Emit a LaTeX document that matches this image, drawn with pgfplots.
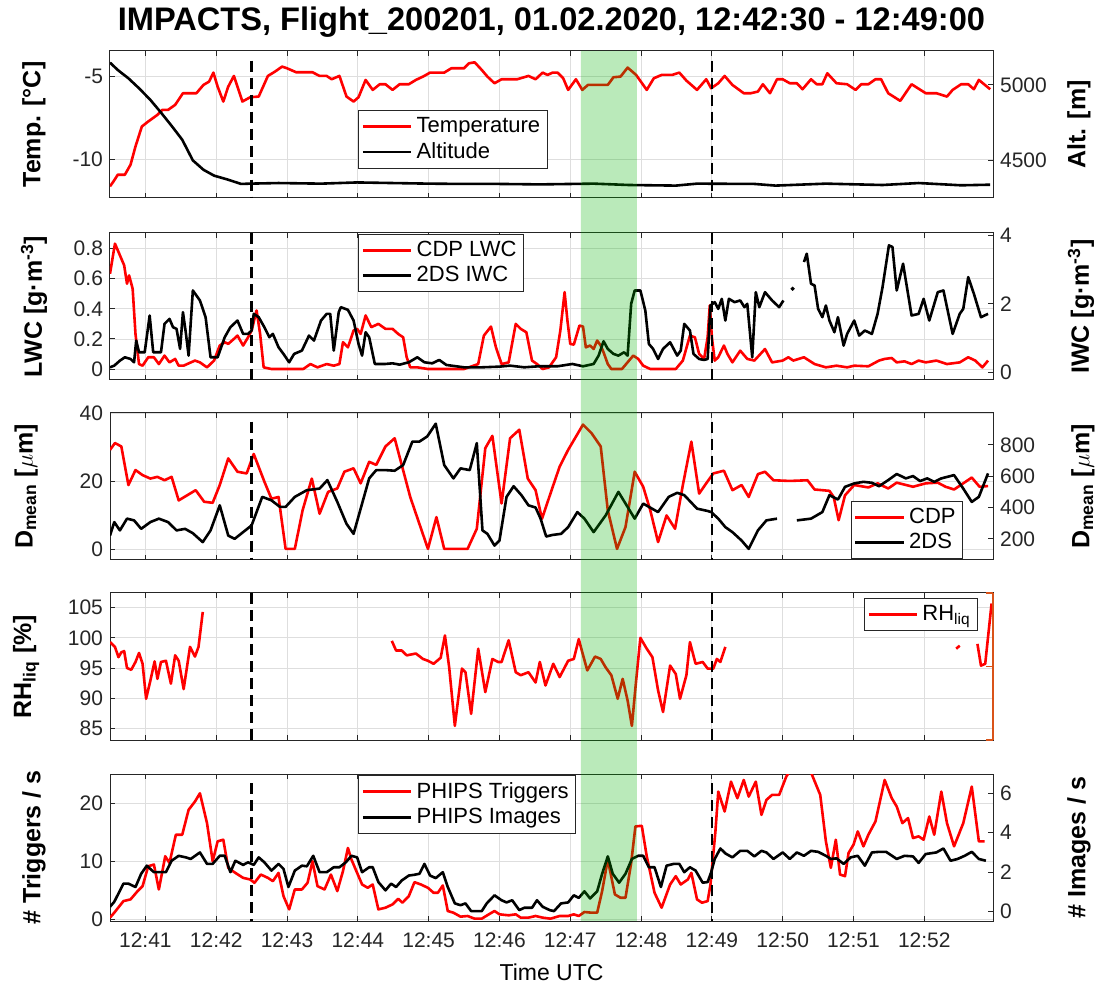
\documentclass[border=0pt]{standalone}
\usepackage{fontspec}
\setmainfont{Liberation Sans}
\usepackage{pgfplots}
\pgfplotsset{compat=1.18}
\definecolor{axgray}{rgb}{0.15,0.15,0.15}
\definecolor{morange}{rgb}{0.85,0.325,0.098}
\definecolor{bandgreen}{rgb}{0,0.7,0}
\tikzset{lw/.style={line width=1.3pt, line join=round},
  dashline/.style={black, line width=1.3pt, dash pattern=on 5.5pt off 3pt}}
\pgfplotsset{
  base/.style={
    scale only axis, width=441.5pt, height=73.5pt, anchor=north west,
    xmin=40.5, xmax=52.97,
    xtick={41,42,43,44,45,46,47,48,49,50,51,52},
    xticklabels={},
    tick align=inside,
    major tick length=2.5pt,
    axis line style={axgray, line width=0.5pt},
    every tick/.style={axgray, line width=0.5pt},
    tick label style={font=\fontsize{10.5}{12}\selectfont, text=axgray},
    /pgf/number format/assume math mode=true,
    /pgf/number format/1000 sep={},
    scaled y ticks=false,
    unbounded coords=jump,
    legend style={font=\fontsize{11}{13}\selectfont, draw=axgray, fill=white, inner sep=1.5pt, row sep=-0.5pt},
    legend cell align=left,
    legend image code/.code={\draw[##1, line width=1.4pt] (0cm,0cm) -- (0.85cm,0cm);},
  },
  leftax/.style={base, ytick pos=left, xmajorgrids, ymajorgrids, grid style={black!13, line width=0.4pt}},
  rightax/.style={base, hide x axis, axis y line*=right, ytick pos=right},
  llab/.style={every axis y label/.style={at={(axis description cs:#1,0.5)}, anchor=center, rotate=90, font=\bfseries\fontsize{12.5}{14}\selectfont, text=black}},
  rlab/.style={every axis y label/.style={at={(axis description cs:#1,0.5)}, anchor=center, rotate=90, font=\bfseries\fontsize{12.5}{14}\selectfont, text=black}},
}
\begin{document}
\begin{tikzpicture}
\path[use as bounding box] (0,0) rectangle (552pt,-494pt);

% ---------------- Panel 1
\begin{axis}[leftax, llab=-0.0861, at={(55pt,-25.5pt)}, ymin=-12.3, ymax=-3.46, ytick={-10,-5}, ylabel={Temp. [°C]},
  title={IMPACTS, Flight\_200201, 01.02.2020, 12:42:30 - 12:49:00},
  title style={font=\bfseries\fontsize{16.3}{19}\selectfont, at={(axis description cs:0.5,1)}, anchor=center, yshift=8.5pt}]
\addplot[red, lw] coordinates {(40.50,-11.6)(40.55,-11.3)(40.61,-10.9)(40.71,-10.9)(40.79,-10.3)(40.86,-9.2)(40.95,-8.0)(41.04,-7.7)(41.17,-7.3)(41.24,-7.0)(41.32,-7.0)(41.42,-6.7)(41.53,-6.0)(41.62,-6.0)(41.72,-6.0)(41.82,-5.5)(41.90,-5.3)(41.96,-4.76)(42.02,-5.6)(42.10,-6.5)(42.17,-5.6)(42.25,-4.96)(42.37,-6.5)(42.48,-6.24)(42.60,-6.2)(42.73,-4.96)(42.83,-4.7)(42.93,-4.4)(43.0,-4.5)(43.13,-4.74)(43.36,-4.74)(43.46,-4.96)(43.56,-4.96)(43.63,-5.16)(43.74,-4.96)(43.84,-6.2)(43.94,-6.5)(44.01,-6.24)(44.11,-5.2)(44.21,-5.8)(44.31,-5.46)(44.39,-5.46)(44.49,-5.8)(44.59,-5.46)(44.72,-5.46)(44.82,-5.2)(44.92,-5.0)(45.02,-4.76)(45.22,-4.76)(45.32,-4.5)(45.50,-4.5)(45.57,-4.2)(45.65,-4.14)(45.75,-4.6)(45.83,-5.0)(45.93,-5.4)(46.03,-5.16)(46.25,-5.16)(46.41,-4.96)(46.51,-5.16)(46.61,-4.76)(46.68,-4.9)(46.75,-4.76)(46.82,-4.76)(46.90,-5.1)(46.97,-5.8)(47.08,-5.16)(47.17,-5.8)(47.25,-5.5)(47.53,-5.5)(47.61,-5.04)(47.71,-5.0)(47.81,-4.46)(47.93,-4.9)(48.08,-5.8)(48.18,-5.1)(48.29,-4.9)(48.44,-4.9)(48.54,-4.76)(48.64,-5.24)(48.79,-5.8)(48.92,-5.16)(48.99,-5.7)(49.09,-5.4)(49.18,-4.96)(49.29,-5.5)(49.45,-6.0)(49.55,-6.0)(49.65,-5.9)(49.72,-5.46)(49.82,-6.0)(49.92,-5.16)(50.0,-5.16)(50.10,-5.4)(50.20,-5.4)(50.28,-5.76)(50.40,-5.16)(50.48,-5.46)(50.56,-5.46)(50.63,-4.8)(50.76,-5.4)(50.91,-5.46)(51.03,-5.8)(51.11,-5.46)(51.21,-5.46)(51.31,-5.16)(51.39,-5.16)(51.49,-6.0)(51.66,-6.46)(51.82,-5.46)(52.02,-6.0)(52.17,-6.0)(52.32,-6.2)(52.40,-5.8)(52.52,-5.46)(52.62,-5.46)(52.70,-5.76)(52.77,-5.2)(52.93,-5.76)};
\addplot[dashline, forget plot] coordinates {(42.5,-4.04)(42.5,-12.3)};
\addplot[dashline, forget plot] coordinates {(49,-4.04)(49,-12.3)};
\end{axis}
\begin{axis}[rightax, rlab=1.0974, at={(55pt,-25.5pt)}, ymin=4251, ymax=5225, ytick={4500,5000}, ylabel={Alt. [m]},
  legend style={at={(axis description cs:0.281,0.599)}, anchor=north west}]
\addlegendimage{red}\addlegendentry{Temperature}
\addplot[black, lw] coordinates {(40.50,5148)(40.61,5099)(40.76,5044)(40.91,4978)(41.07,4901)(41.22,4817)(41.37,4729)(41.52,4637)(41.67,4500)(41.82,4438)(41.97,4399)(42.17,4372)(42.35,4344)(42.48,4346)(42.88,4350)(43.48,4346)(43.99,4354)(44.49,4350)(45.0,4346)(45.5,4344)(46.0,4344)(46.57,4341)(47.33,4346)(47.83,4337)(48.49,4333)(48.79,4346)(49.6,4344)(49.9,4333)(50.61,4346)(51.41,4337)(51.92,4350)(52.52,4335)(52.93,4339)};
\addlegendentry{Altitude}
\end{axis}

% ---------------- Panel 2
\begin{axis}[leftax, llab=-0.0861, at={(55pt,-116.5pt)}, ymin=-0.073, ymax=0.904, ytick={0,0.2,0.4,0.6,0.8}, ylabel={LWC [g·m\textsuperscript{-3}]}]
\addplot[red, lw] coordinates {(40.50,0.633)(40.57,0.833)(40.64,0.756)(40.70,0.689)(40.74,0.567)(40.77,0.622)(40.82,0.533)(40.86,0.233)(40.91,0.033)(40.96,0.022)(41.04,0.078)(41.12,0.078)(41.19,0.033)(41.27,0.089)(41.34,0.044)(41.42,0.067)(41.47,0.022)(41.54,0.022)(41.59,0.033)(41.70,0.056)(41.77,0.044)(41.87,0.011)(41.97,0.056)(42.05,0.156)(42.12,0.178)(42.17,0.167)(42.25,0.2)(42.30,0.222)(42.38,0.156)(42.45,0.211)(42.50,0.256)(42.57,0.389)(42.62,0.233)(42.67,0.011)(42.78,0)(42.98,0)(43.23,0)(43.33,0.033)(43.43,0.011)(43.56,0.033)(43.66,0.022)(43.74,0.033)(43.79,0.178)(43.86,0.144)(43.94,0.256)(43.99,0.267)(44.04,0.233)(44.11,0.356)(44.19,0.278)(44.29,0.3)(44.39,0.267)(44.49,0.267)(44.57,0.233)(44.64,0.211)(44.69,0.078)(44.74,0.011)(44.84,0.011)(44.99,0)(45.50,0)(45.70,0.033)(45.78,0.222)(45.88,0.282)(45.95,0.144)(46.03,0.033)(46.13,0.044)(46.23,0.3)(46.30,0.267)(46.38,0.244)(46.46,0.056)(46.53,0.033)(46.61,0)(46.70,0.011)(46.80,0.078)(46.86,0.256)(46.92,0.511)(46.96,0.322)(47.0,0.167)(47.05,0.162)(47.13,0.289)(47.18,0.282)(47.22,0.144)(47.28,0.156)(47.33,0.133)(47.38,0.189)(47.43,0.156)(47.47,0.111)(47.53,0.033)(47.58,0)(47.73,0)(47.83,0.056)(47.89,0.089)(47.96,0.067)(48.03,0.022)(48.13,0)(48.49,0)(48.59,0.056)(48.69,0.222)(48.76,0.211)(48.82,0.1)(48.89,0.067)(48.94,0.211)(48.97,0.422)(49.0,0.211)(49.04,0.056)(49.09,0.078)(49.17,0.156)(49.22,0.1)(49.29,0.044)(49.40,0.122)(49.50,0.067)(49.60,0.056)(49.75,0.133)(49.85,0.044)(50.0,0.056)(50.08,0.078)(50.15,0.056)(50.30,0.078)(50.45,0.033)(50.61,0.011)(50.76,0.022)(50.91,0.011)(51.01,0.022)(51.21,0.018)(51.36,0.056)(51.44,0.067)(51.54,0.073)(51.61,0.044)(51.72,0.051)(51.82,0.033)(51.92,0.056)(52.02,0.044)(52.17,0.056)(52.32,0.033)(52.50,0.044)(52.62,0.078)(52.72,0.056)(52.82,0.011)(52.90,0.056)};
\addplot[dashline, forget plot] coordinates {(42.5,0.904)(42.5,-0.073)};
\addplot[dashline, forget plot] coordinates {(49,0.904)(49,-0.073)};
\end{axis}
\begin{axis}[rightax, rlab=1.0997, at={(55pt,-116.5pt)}, ymin=-0.224, ymax=4.068, ytick={0,2,4}, ylabel={IWC [g·m\textsuperscript{-3}]},
  legend style={at={(axis description cs:0.281,0.995)}, anchor=north west}]
\addlegendimage{red}\addlegendentry{CDP LWC}
\addplot[black, lw] coordinates {(40.50,0.146)(40.56,0.195)(40.64,0.341)(40.71,0.439)(40.79,0.39)(40.84,0.293)(40.87,0.927)(40.91,0.585)(40.99,0.585)(41.06,1.659)(41.11,0.585)(41.22,0.585)(41.27,1.415)(41.34,1.561)(41.39,1.317)(41.44,1.268)(41.49,0.683)(41.53,1.756)(41.57,1.171)(41.61,0.488)(41.67,2.39)(41.77,2.098)(41.85,1.61)(41.92,0.439)(42.02,0.439)(42.12,1.024)(42.20,1.317)(42.30,1.512)(42.38,1.122)(42.45,1.122)(42.50,1.22)(42.53,1.707)(42.60,1.61)(42.68,1.317)(42.75,1.024)(42.80,1.122)(42.88,0.732)(42.95,0.537)(43.03,0.293)(43.10,0.537)(43.21,0.634)(43.31,1.073)(43.38,0.927)(43.48,1.512)(43.56,1.707)(43.61,1.707)(43.66,0.634)(43.73,1.756)(43.76,1.902)(43.86,1.824)(43.94,1.512)(44.01,0.829)(44.06,0.488)(44.11,1.171)(44.16,1.024)(44.24,0.244)(44.39,0.244)(44.49,0.263)(44.59,0.224)(44.72,0.293)(44.84,0.439)(44.94,0.293)(45.05,0.263)(45.15,0.361)(45.25,0.215)(45.50,0.146)(45.75,0.146)(46.0,0.166)(46.15,0.195)(46.35,0.146)(46.55,0.176)(46.82,0.176)(47.03,0.244)(47.18,0.176)(47.33,0.244)(47.40,0.488)(47.47,0.907)(47.53,0.683)(47.61,0.537)(47.68,0.488)(47.76,0.585)(47.81,0.488)(47.86,2.0)(47.91,2.39)(47.99,2.39)(48.06,1.805)(48.11,0.829)(48.17,0.683)(48.24,0.39)(48.31,0.683)(48.41,0.878)(48.51,0.488)(48.56,0.634)(48.61,1.415)(48.69,1.22)(48.74,0.537)(48.82,0.39)(48.89,0.361)(48.94,0.39)(48.98,1.951)(49.04,2.049)(49.09,1.854)(49.14,2.146)(49.19,1.512)(49.24,2.146)(49.32,2.049)(49.40,2.098)(49.46,1.902)(49.50,2.0)(49.57,0.439)(49.62,2.341)(49.67,1.902)(49.75,2.341)(49.85,2.098)(49.95,1.902)(50.01,2.098)(50.1,nan)(50.30,3.22)(50.34,3.463)(50.40,2.585)(50.45,2.537)(50.50,1.854)(50.56,1.61)(50.61,1.951)(50.66,1.512)(50.73,1.171)(50.78,1.61)(50.86,0.78)(50.91,1.122)(51.01,1.512)(51.08,1.073)(51.16,1.22)(51.26,1.122)(51.34,1.707)(51.41,2.488)(51.50,3.707)(51.55,3.659)(51.61,2.39)(51.70,3.171)(51.82,1.659)(51.92,1.707)(51.99,2.146)(52.07,1.512)(52.19,2.341)(52.27,2.39)(52.40,1.122)(52.50,1.707)(52.55,1.854)(52.62,2.78)(52.70,2.293)(52.80,1.61)(52.90,1.707)};
\addlegendentry{2DS IWC}
\addplot[black, only marks, mark=*, mark size=0.8pt, forget plot] coordinates {(50.14,2.44)};
\end{axis}

% ---------------- Panel 3
\begin{axis}[leftax, llab=-0.095, at={(55pt,-206.5pt)}, ymin=-3.05, ymax=40, ytick={0,20,40}, ylabel={D\textsubscript{mean} [$\mu$m]}]
\addplot[red, lw] coordinates {(40.50,29.2)(40.57,31.2)(40.66,30.2)(40.76,18.9)(40.86,23.3)(40.96,21.8)(41.07,20.8)(41.17,21.3)(41.27,20.3)(41.37,21.3)(41.47,14.4)(41.59,15.9)(41.71,17.4)(41.83,14.0)(41.95,13.7)(42.05,18.9)(42.17,26.7)(42.30,22.8)(42.43,22.3)(42.53,28.0)(42.68,19.9)(42.78,14.9)(42.88,15.4)(42.98,0.2)(43.11,0.2)(43.22,11.5)(43.35,20.8)(43.46,10.5)(43.58,16.9)(43.71,17.9)(43.81,22.8)(43.94,23.8)(44.04,19.4)(44.16,25.7)(44.26,24.8)(44.39,30.2)(44.52,32.6)(44.74,15.4)(44.99,0.2)(45.11,9.5)(45.22,0.2)(45.55,0.2)(45.68,6.1)(45.80,29.7)(45.90,33.3)(46.03,13.5)(46.15,32.6)(46.28,35.1)(46.40,20.8)(46.51,17.4)(46.60,9.0)(46.72,16.4)(46.85,24.3)(46.97,29.2)(47.18,36.6)(47.30,34.1)(47.43,30.2)(47.53,11.5)(47.66,0.2)(47.78,6.6)(47.91,22.8)(48.03,18.4)(48.13,11.5)(48.24,2.2)(48.36,10.0)(48.48,6.1)(48.59,18.9)(48.71,31.6)(48.82,16.4)(48.92,19.4)(49.02,22.3)(49.17,23.1)(49.29,17.4)(49.42,18.9)(49.52,15.4)(49.65,22.1)(49.75,22.8)(49.87,20.3)(50.10,20.1)(50.35,20.3)(50.45,17.6)(50.66,17.2)(50.72,15.4)(50.79,8.6)(50.88,15.9)(51.01,18.9)(51.21,18.2)(51.34,19.4)(51.49,17.9)(51.61,19.6)(51.84,18.4)(52.02,19.4)(52.19,19.6)(52.30,18.4)(52.42,17.6)(52.55,19.4)(52.67,21.1)(52.78,18.4)(52.90,18.6)};
\addplot[dashline, forget plot] coordinates {(42.5,37.5)(42.5,-3.05)};
\addplot[dashline, forget plot] coordinates {(49,37.5)(49,-3.05)};
\end{axis}
\begin{axis}[rightax, rlab=1.1019, at={(55pt,-206.5pt)}, ymin=65, ymax=1003.6, ytick={200,400,600,800}, ylabel={D\textsubscript{mean} [$\mu$m]},
  legend style={at={(axis description cs:0.966,0.005)}, anchor=south east}]
\addlegendimage{red}\addlegendentry{CDP}
\addplot[black, lw] coordinates {(40.50,221)(40.56,307)(40.64,254)(40.74,329)(40.84,318)(40.94,264)(41.07,307)(41.19,329)(41.32,307)(41.44,254)(41.56,264)(41.67,236)(41.81,179)(41.92,254)(42.05,414)(42.17,221)(42.26,200)(42.38,243)(42.50,286)(42.65,468)(42.78,446)(42.90,404)(42.98,404)(43.11,468)(43.28,511)(43.46,521)(43.57,575)(43.71,436)(43.84,296)(43.94,232)(44.16,586)(44.26,639)(44.39,639)(44.52,635)(44.64,671)(44.77,821)(44.87,821)(44.98,854)(45.10,935)(45.22,671)(45.35,586)(45.45,650)(45.58,639)(45.68,811)(45.76,254)(45.83,232)(45.93,157)(46.0,189)(46.10,468)(46.20,536)(46.31,479)(46.41,414)(46.51,400)(46.58,330)(46.66,215)(46.75,225)(46.87,232)(46.97,275)(47.10,371)(47.20,329)(47.33,243)(47.50,350)(47.68,500)(47.91,329)(48.03,425)(48.24,371)(48.39,468)(48.51,494)(48.61,479)(48.79,393)(48.94,378)(48.99,371)(49.09,329)(49.19,275)(49.29,243)(49.42,189)(49.52,136)(49.65,254)(49.77,318)(49.92,329)(50.05,nan)(50.20,318)(50.40,329)(50.56,371)(50.66,479)(50.78,451)(50.88,532)(51.01,554)(51.14,564)(51.26,558)(51.36,536)(51.49,575)(51.61,614)(51.74,586)(51.84,601)(51.94,569)(52.04,586)(52.14,564)(52.24,586)(52.42,607)(52.55,521)(52.67,436)(52.77,468)(52.90,618)};
\addlegendentry{2DS}
\end{axis}

% ---------------- Panel 4
\begin{axis}[leftax, llab=-0.095, at={(55pt,-296.5pt)}, ymin=83.06, ymax=107.44, ytick={85,90,95,100,105}, ylabel={RH\textsubscript{liq} [\%]},
  legend style={at={(axis description cs:0.983,0.966)}, anchor=north east}]
\addplot[red, lw] coordinates {(40.50,99.3)(40.57,98.5)(40.62,96.8)(40.66,97.6)(40.70,97.8)(40.74,95.0)(40.80,94.7)(40.86,96.0)(40.91,97.5)(40.96,95.7)(41.01,89.9)(41.07,92.9)(41.13,96.1)(41.17,93.2)(41.22,96.0)(41.29,96.2)(41.36,92.4)(41.42,97.1)(41.47,96.2)(41.54,91.5)(41.63,98.5)(41.70,96.9)(41.75,98.5)(41.81,104.3)(43.0,nan)(44.48,99.5)(44.54,97.9)(44.62,97.9)(44.69,97.1)(44.82,97.4)(44.92,96.5)(44.99,96.2)(45.07,95.7)(45.17,96.7)(45.23,100.4)(45.29,95.1)(45.37,85.4)(45.47,94.9)(45.52,94.3)(45.60,87.4)(45.70,98.2)(45.80,91.0)(45.90,96.5)(45.98,96.0)(46.03,96.0)(46.13,99.6)(46.23,94.3)(46.30,93.8)(46.41,94.3)(46.51,92.6)(46.57,96.0)(46.65,92.1)(46.76,95.7)(46.85,93.5)(46.97,96.2)(47.05,96.5)(47.12,99.8)(47.17,97.6)(47.24,94.6)(47.35,96.9)(47.43,96.5)(47.50,95.1)(47.58,93.8)(47.67,89.9)(47.74,93.2)(47.81,89.6)(47.87,85.4)(47.93,92.9)(47.99,100.0)(48.08,98.2)(48.16,96.8)(48.24,91.3)(48.31,87.7)(48.41,95.4)(48.49,94.0)(48.55,89.9)(48.64,93.8)(48.69,99.3)(48.77,95.7)(48.87,96.0)(48.94,94.9)(49.02,94.9)(49.07,96.5)(49.12,96.0)(49.19,98.5)(50.5,nan)(52.45,98.2)(52.50,98.7)(52.6,nan)(52.75,99.0)(52.80,95.4)(52.86,95.7)(52.95,105.7)};
\addlegendentry{RH\textsubscript{liq}}
\addplot[dashline, forget plot] coordinates {(42.5,107.44)(42.5,83.06)};
\addplot[dashline, forget plot] coordinates {(49,107.44)(49,83.06)};
\end{axis}
\begin{axis}[rightax, at={(55pt,-296.5pt)}, ymin=0, ymax=1, ytick={0,0.5,1}, yticklabels={}, axis line style={morange, line width=0.6pt}, every tick/.style={morange, line width=0.6pt}, major tick length=3.5pt]
\end{axis}

% ---------------- Panel 5
\begin{axis}[leftax, llab=-0.0861, at={(55pt,-387pt)}, ymin=-0.29, ymax=25.03, ytick={0,10,20}, ylabel={\# Triggers / s},
  xticklabels={12:41,12:42,12:43,12:44,12:45,12:46,12:47,12:48,12:49,12:50,12:51,12:52},
  xticklabel style={yshift=-2.5pt},
  xlabel={Time UTC}, xlabel style={font=\fontsize{11.5}{13}\selectfont, at={(axis description cs:0.5,0)}, anchor=center, yshift=-25.5pt}]
\addplot[red, lw] coordinates {(40.50,0.29)(40.56,1.14)(40.69,3.14)(40.79,3.43)(40.89,4.86)(40.96,5.71)(41.04,9.14)(41.12,9.43)(41.19,5.14)(41.28,10.86)(41.34,9.71)(41.43,14.57)(41.52,14.57)(41.61,18.86)(41.70,20.29)(41.77,21.71)(41.87,16.57)(41.95,10.0)(42.02,13.43)(42.10,13.71)(42.17,8.86)(42.27,8.0)(42.38,7.14)(42.48,6.86)(42.54,6.29)(42.63,7.71)(42.73,7.14)(42.80,6.57)(42.88,8.0)(42.95,4.0)(43.03,1.71)(43.11,5.14)(43.21,5.14)(43.29,6.29)(43.36,10.0)(43.43,5.71)(43.53,5.14)(43.62,7.71)(43.71,4.86)(43.79,8.29)(43.86,12.29)(43.91,10.29)(43.99,8.0)(44.06,6.0)(44.14,5.43)(44.21,6.0)(44.29,1.71)(44.39,2.0)(44.49,2.57)(44.57,3.54)(44.63,2.86)(44.72,4.0)(44.80,6.4)(44.89,6.0)(44.99,5.43)(45.07,4.57)(45.13,4.57)(45.20,5.83)(45.27,1.43)(45.35,1.14)(45.45,0.46)(45.55,0.57)(45.65,0.11)(45.75,0.11)(45.85,0.86)(45.93,1.43)(46.0,0.86)(46.13,0.69)(46.23,0.86)(46.30,0.29)(46.41,0.29)(46.51,0.57)(46.61,0.29)(46.72,0.11)(46.85,0.57)(46.97,0.57)(47.05,0.86)(47.12,0.57)(47.20,1.26)(47.30,1.14)(47.38,1.14)(47.45,4.86)(47.53,10.29)(47.63,4.29)(47.71,3.71)(47.78,3.71)(47.86,9.71)(47.92,16.0)(48.01,16.11)(48.08,10.86)(48.19,4.57)(48.29,2.0)(48.41,6.0)(48.49,7.43)(48.56,6.0)(48.66,6.86)(48.71,8.0)(48.79,3.43)(48.86,2.86)(48.94,3.14)(48.98,6.0)(49.05,15.14)(49.09,22.0)(49.18,18.57)(49.27,23.71)(49.36,20.86)(49.45,24.0)(49.52,21.14)(49.62,23.71)(49.70,18.0)(49.77,20.57)(49.85,21.43)(49.95,21.43)(50.05,24.57)(50.15,26.5)(50.25,26.5)(50.40,25.3)(50.53,21.43)(50.61,13.43)(50.68,8.86)(50.75,13.71)(50.81,7.71)(50.88,7.43)(50.93,11.43)(51.0,12.86)(51.06,15.14)(51.14,12.57)(51.21,14.57)(51.31,16.86)(51.44,24.0)(51.54,20.86)(51.61,19.43)(51.69,16.57)(51.77,17.43)(51.84,14.0)(51.92,14.29)(51.99,13.71)(52.07,17.71)(52.14,14.57)(52.24,22.0)(52.32,16.57)(52.42,12.57)(52.55,16.57)(52.67,22.86)(52.77,13.43)(52.85,13.43)};
\addplot[dashline, forget plot] coordinates {(42.5,23.4)(42.5,-0.29)};
\addplot[dashline, forget plot] coordinates {(49,23.4)(49,-0.29)};
\end{axis}
\begin{axis}[rightax, rlab=1.0974, at={(55pt,-387pt)}, ymin=-0.47, ymax=6.97, ytick={0,2,4,6}, ylabel={\# Images / s},
  legend style={at={(axis description cs:0.281,0.993)}, anchor=north west}]
\addlegendimage{red}\addlegendentry{PHIPS Triggers}
\addplot[black, lw] coordinates {(40.50,0.25)(40.56,0.5)(40.69,1.42)(40.76,1.42)(40.86,1.25)(40.94,1.92)(41.02,2.33)(41.12,2.0)(41.29,2.0)(41.37,2.58)(41.47,2.83)(41.57,2.75)(41.64,2.67)(41.77,3.0)(41.87,2.42)(41.95,2.42)(42.05,2.83)(42.12,2.83)(42.20,2.0)(42.27,2.58)(42.38,2.37)(42.45,2.5)(42.53,2.37)(42.60,2.75)(42.68,2.5)(42.78,2.08)(42.88,2.42)(42.95,2.17)(43.02,1.25)(43.11,2.08)(43.21,2.33)(43.28,2.3)(43.37,2.83)(43.46,2.0)(43.56,2.0)(43.66,2.25)(43.74,2.25)(43.83,2.5)(43.91,2.83)(43.99,2.75)(44.06,2.0)(44.16,2.25)(44.21,2.25)(44.29,1.5)(44.39,1.08)(44.47,1.42)(44.54,1.25)(44.62,1.58)(44.72,1.83)(44.80,1.87)(44.87,1.92)(44.94,2.42)(45.02,1.83)(45.10,1.7)(45.20,2.0)(45.27,1.25)(45.37,0.42)(45.45,0.33)(45.52,0.42)(45.60,0.03)(45.75,0.03)(45.82,0.42)(45.93,0.83)(46.03,0.58)(46.10,0.47)(46.18,0.58)(46.28,0.08)(46.35,0.2)(46.46,0.2)(46.53,0.58)(46.61,0.25)(46.71,0.08)(46.77,0.03)(46.87,0.42)(46.97,0.47)(47.05,0.83)(47.12,0.7)(47.20,1.03)(47.28,0.67)(47.38,1.03)(47.45,1.92)(47.53,2.8)(47.60,1.92)(47.69,1.47)(47.78,1.92)(47.87,2.67)(47.96,2.83)(48.03,2.83)(48.11,2.25)(48.19,2.25)(48.28,1.25)(48.36,2.33)(48.46,2.42)(48.54,2.42)(48.61,2.0)(48.69,2.25)(48.77,2.08)(48.87,1.47)(48.94,1.5)(48.99,2.0)(49.04,2.67)(49.12,3.2)(49.19,2.95)(49.29,2.75)(49.40,3.08)(49.50,3.08)(49.60,2.8)(49.70,3.08)(49.77,3.0)(49.87,2.67)(50.0,3.0)(50.10,2.67)(50.20,3.0)(50.30,2.83)(50.40,3.08)(50.50,3.03)(50.61,2.83)(50.68,2.67)(50.76,2.7)(50.86,2.42)(50.96,2.75)(51.06,2.83)(51.16,2.33)(51.26,3.0)(51.36,3.03)(51.46,3.03)(51.61,2.67)(51.72,2.83)(51.84,2.8)(51.92,2.47)(52.02,2.92)(52.17,3.0)(52.27,3.2)(52.37,2.58)(52.47,2.67)(52.57,2.83)(52.67,3.03)(52.77,2.67)(52.87,2.58)};
\addlegendentry{PHIPS Images}
\end{axis}

% ---------------- green band overlay
\begin{axis}[scale only axis, width=441.5pt, height=435pt, anchor=north west, at={(55pt,-25.5pt)}, hide axis, xmin=40.5, xmax=52.97, ymin=0, ymax=1]
\addplot[draw=none, fill=bandgreen, fill opacity=0.27] coordinates {(47.15,0)(47.94,0)(47.94,1)(47.15,1)} \closedcycle;
\end{axis}
\end{tikzpicture}
\end{document}
